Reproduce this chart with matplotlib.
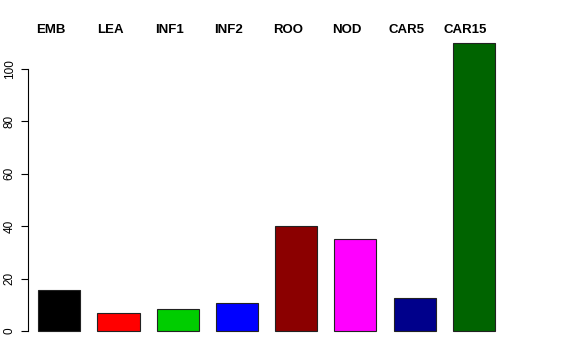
import numpy as np
import matplotlib
matplotlib.use('Agg')
import matplotlib.pyplot as plt
import matplotlib.transforms as mtrans

plt.rcParams['font.family'] = ['Liberation Sans', 'DejaVu Sans']

# data
tissues = ['EMB', 'LEA', 'INF1', 'INF2', 'ROO', 'NOD', 'CAR5', 'CAR15']
values = [15.5, 6.9, 8.3, 10.6, 40.2, 35.0, 12.7, 109.9]
colours = ['black', 'red', '#00CD00', 'blue', '#8B0000', 'magenta', '#00008B', '#006400']
yticks = [0, 20, 40, 60, 80, 100]

W, H = 576, 360
fig = plt.figure(figsize=(W / 100, H / 100), dpi=100)
# plot region in pixels: left 28, right 505, top 31, bottom 342
ax = fig.add_axes([28.3 / W, 1 - 342.5 / H, (504.7 - 28.3) / W, (342.5 - 31.3) / H])

x = np.arange(len(tissues))
ax.bar(x, values, width=0.71, color=colours, edgecolor='#222222', linewidth=0.8)

ax.set_xlim(-0.523, 7.52)
ax.set_ylim(-4.4, 114.4)

for s in ['top', 'right', 'bottom']:
    ax.spines[s].set_visible(False)
ax.spines['left'].set_bounds(0, 100)
ax.spines['left'].set_linewidth(0.8)
ax.set_xticks([])
ax.set_yticks(yticks)
ax.set_yticklabels([str(t) for t in yticks], rotation=90, va='center', fontsize=8.5)
ax.tick_params(axis='y', length=5, width=0.8, pad=4)

# tissue names sit on one line near the top, a little left of the bar centres
trans = mtrans.blended_transform_factory(ax.transData, fig.transFigure)
for i, name in enumerate(tissues):
    ax.text(i - 0.14, 1 - 30 / H, name, transform=trans,
            ha='center', va='center', fontsize=9.5, fontweight='bold')

fig.savefig('out.png', dpi=100)
